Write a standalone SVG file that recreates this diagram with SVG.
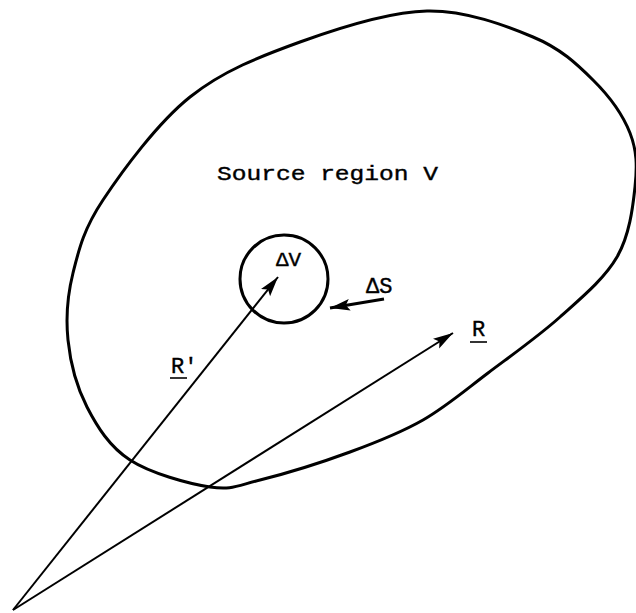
<svg xmlns="http://www.w3.org/2000/svg" width="636" height="613" viewBox="0 0 636 613">
<style>
.txt{font-family:"Liberation Mono","DejaVu Sans Mono",monospace;fill:#000;stroke:#000;stroke-width:0.4}
.curve{fill:none;stroke:#000;stroke-width:3}
.vec{fill:none;stroke:#000;stroke-width:2}
.ul{stroke:#000;stroke-width:1.6}
</style>
<defs>
<marker id="ah" markerUnits="userSpaceOnUse" markerWidth="22" markerHeight="14" refX="20" refY="7" orient="auto">
<path d="M0,1.2 L20,7 L0,12.8 L4,7 Z" fill="#000"/>
</marker>
</defs>
<rect width="636" height="613" fill="#fff"/>
<g id="source-region">
<path class="curve" d="M427,11 C465.8,10.2 505.3,25.5 533,37 C560.7,48.5 576.8,64 593,80 C609.2,96 623,115.2 630,133 C637,150.8 637.2,166.3 635,187 C632.8,207.7 629.5,235.3 617,257 C604.5,278.7 581.5,297.7 560,317 C538.5,336.3 510.8,355.8 488,373 C465.2,390.2 446,406.8 423,420 C400,433.2 377.2,442 350,452 C322.8,462 283.3,474.2 260,480 C236.7,485.8 231.7,490.3 210,487 C188.3,483.7 150.5,473.3 130,460 C109.5,446.7 97.3,427 87,407 C76.7,387 70.3,362.3 68,340 C65.7,317.7 67.2,296.3 73,273 C78.8,249.7 83.5,229.3 103,200 C122.5,170.7 157.2,123.3 190,97 C222.8,70.7 260.5,56.3 300,42 C339.5,27.7 388.2,11.8 427,11 Z"/>
<text class="txt" x="217" y="180" font-size="21" textLength="221" lengthAdjust="spacingAndGlyphs">Source region V</text>
</g>
<g id="volume-element">
<circle class="curve" cx="284" cy="279" r="44"/>
<text class="txt" x="276" y="266" font-size="21">ΔV</text>
<text class="txt" x="366" y="293" font-size="22">ΔS</text>
</g>
<g id="connectors">
<line class="vec" x1="13" y1="610" x2="278" y2="277" marker-end="url(#ah)"/>
<line class="vec" x1="13" y1="610" x2="453" y2="333" marker-end="url(#ah)"/>
<line x1="384" y1="299" x2="330" y2="308" stroke="#000" stroke-width="3" marker-end="url(#ah)"/>
</g>
<g id="labels">
<text class="txt" x="171" y="373" font-size="22">R′</text>
<line class="ul" x1="170" y1="378" x2="187" y2="378"/>
<text class="txt" x="472" y="336" font-size="22">R</text>
<line class="ul" x1="470" y1="342" x2="487" y2="342"/>
</g>
</svg>
